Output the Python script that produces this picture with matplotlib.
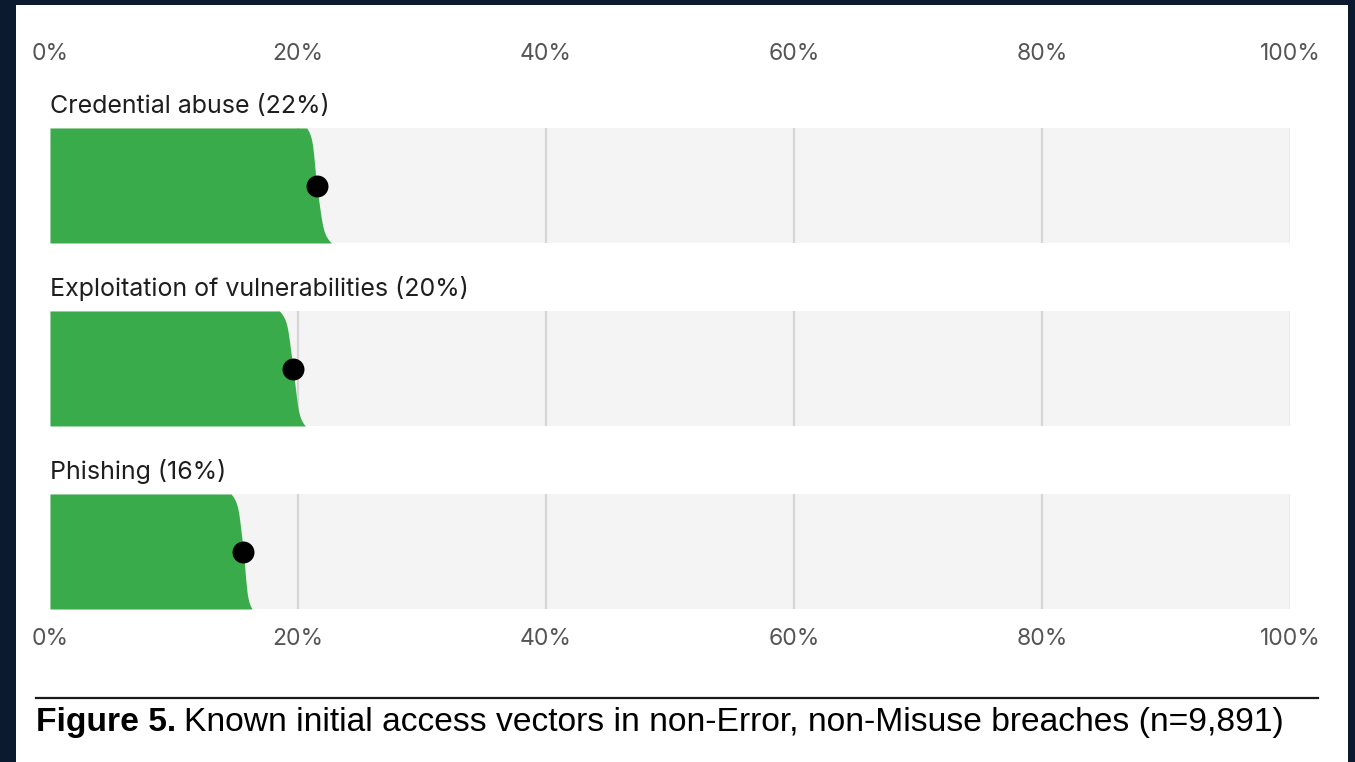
import numpy as np
import matplotlib
matplotlib.use("Agg")
import matplotlib.pyplot as plt
from matplotlib.patches import Rectangle
from matplotlib.lines import Line2D

# valores (em %)
categorias = ["Credential abuse", "Exploitation of vulnerabilities", "Phishing"]
percentuais = [22, 20, 16]
estimativa = [21.5, 19.6, 15.6]
limite_inf = [20.7, 18.5, 14.6]
limite_sup = [22.7, 20.6, 16.3]
ticks = [0, 20, 40, 60, 80, 100]
tick_labels = ["0%", "20%", "40%", "60%", "80%", "100%"]
legenda_negrito = "Figure 5."
legenda_resto = "Known initial access vectors in non-Error, non-Misuse breaches (n=9,891)"

W, H = 1355, 762
NAVY = "#0b1a2e"
VERDE = "#3aab4a"
CINZA_BARRA = "#f4f4f4"
CINZA_GRADE = "#d6d6d6"

fig = plt.figure(figsize=(W / 100, H / 100), dpi=100, facecolor=NAVY)
fig.patches.append(Rectangle((16 / W, 0), (1348 - 16) / W, (H - 5) / H,
                             transform=fig.transFigure, facecolor="white",
                             edgecolor="none", zorder=-10))

# eixo: de 0% (x=50px) a 100% (x=1290px), barras de y=128px a y=609px
ax = fig.add_axes([50 / W, 1 - 609 / H, 1240 / W, (609 - 128) / H])
ax.set_facecolor("none")
ax.set_zorder(5)

altura = 115 / 183
linhas = np.arange(len(categorias))

ax.barh(linhas, 100, height=altura, left=0, color=CINZA_BARRA, zorder=1)
for y in linhas:
    ax.vlines(ticks[1:-1], y - altura / 2, y + altura / 2, color=CINZA_GRADE,
              lw=1.6, zorder=2)
    ax.vlines([100], y - altura / 2, y + altura / 2, color="#e8e8e8", lw=1.2, zorder=2)

# forma do intervalo (borda suave entre limite inferior e superior)
t = np.linspace(0, 1, 300)
u = 2 * t - 1
g = np.sign(u) * (0.55 * np.abs(u) + 0.45 * np.abs(u) ** 8)
for y, m, lo, hi in zip(linhas, estimativa, limite_inf, limite_sup):
    borda = np.where(u < 0, m + (m - lo) * g, m + (hi - m) * g)
    ys = y - altura / 2 + t * altura
    ax.fill_betweenx(ys, 0, borda, color=VERDE, lw=0, zorder=3)

ax.scatter(estimativa, linhas, s=250, color="black", zorder=4, linewidths=0)

for y, nome, p in zip(linhas, categorias, percentuais):
    ax.annotate(f"{nome} ({p}%)", xy=(0, y - altura / 2), xytext=(0, 7),
                textcoords="offset points", ha="left", va="bottom",
                fontsize=18, color="#1e1e1e", family="Inter")

ax.set_xlim(0, 100)
ax.set_ylim(len(categorias) - 1 + altura / 2, -altura / 2)
ax.set_yticks([])
for s in ax.spines.values():
    s.set_visible(False)

ax.set_xticks(ticks)
ax.set_xticklabels(tick_labels)
ax.tick_params(axis="x", length=0, pad=14, labelsize=16.5, labelcolor="#555555")
for lbl in ax.get_xticklabels():
    lbl.set_family("Inter")

topo = ax.secondary_xaxis("top")
topo.set_xticks(ticks)
topo.set_xticklabels(tick_labels)
topo.tick_params(axis="x", length=0, pad=45, labelsize=16.5, labelcolor="#555555")
for lbl in topo.get_xticklabels():
    lbl.set_family("Inter")
for s in topo.spines.values():
    s.set_visible(False)

# linha e legenda
fig.add_artist(Line2D([36 / W, 1318 / W], [1 - 698 / H] * 2, lw=1.6,
                      color="#1a1a1a", transform=fig.transFigure))
t1 = fig.text(36 / W, 1 - 723 / H, legenda_negrito, fontsize=24.2, weight="bold",
              family="Liberation Sans", va="center", ha="left", color="black")
fig.canvas.draw()
bb = t1.get_window_extent()
fig.text((bb.x1 + 8) / W, 1 - 723 / H, legenda_resto, fontsize=24.2,
         family="Liberation Sans", va="center", ha="left", color="black")

fig.savefig("out.png", dpi=100, facecolor=NAVY)
